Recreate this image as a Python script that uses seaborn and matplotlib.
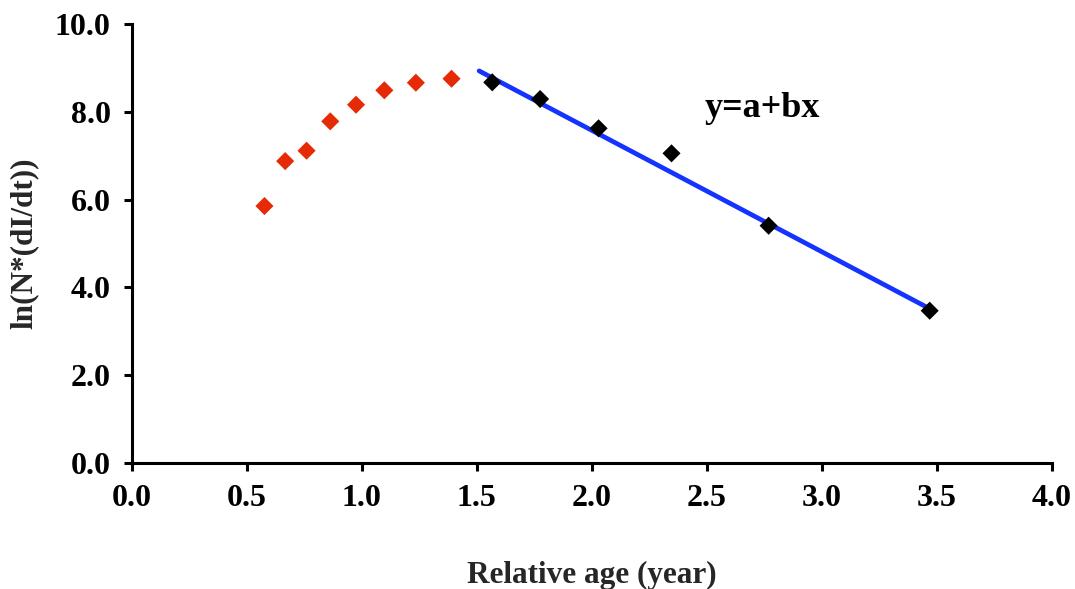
import matplotlib
matplotlib.use("Agg")
import matplotlib.pyplot as plt
import seaborn as sns
import numpy as np
import pandas as pd

# Early (rising) part of the catch curve
age_rising = [0.577, 0.667, 0.760, 0.863, 0.975, 1.098, 1.235, 1.390]
ln_rising = [5.855, 6.88, 7.117, 7.787, 8.166, 8.495, 8.668, 8.759]

# Descending limb used for the linear fit
age_desc = [1.567, 1.775, 2.029, 2.346, 2.768, 3.468]
ln_desc = [8.677, 8.296, 7.628, 7.057, 5.406, 3.467]

# Fitted line y = a + b x
fit_a = 13.12
fit_b = -2.77
fit_x = [1.51, 3.46]

x_ticks = [0.0, 0.5, 1.0, 1.5, 2.0, 2.5, 3.0, 3.5, 4.0]
y_ticks = [0.0, 2.0, 4.0, 6.0, 8.0, 10.0]

sns.set_style("ticks")
plt.rcParams["font.family"] = ["Liberation Serif", "DejaVu Serif"]
plt.rcParams["font.weight"] = "bold"

fig = plt.figure(figsize=(10.75, 5.89), dpi=100)
ax = fig.add_axes([0.1225, 0.2144, 0.8562, 0.7443])

rising = pd.DataFrame({"age": age_rising, "ln": ln_rising})
desc = pd.DataFrame({"age": age_desc, "ln": ln_desc})
line = pd.DataFrame({"age": fit_x, "ln": [fit_a + fit_b * v for v in fit_x]})

sns.lineplot(data=line, x="age", y="ln", ax=ax, color="#1433ff", linewidth=3.4, zorder=2)
sns.scatterplot(data=rising, x="age", y="ln", ax=ax, marker="D", s=85,
                color="#e62a06", edgecolor="none", zorder=3)
sns.scatterplot(data=desc, x="age", y="ln", ax=ax, marker="D", s=85,
                color="black", edgecolor="none", zorder=3)

ax.set_xlim(0, 4.0)
ax.set_ylim(0, 10.0)
ax.set_xticks(x_ticks)
ax.set_yticks(y_ticks)
ax.set_xticklabels([f"{v:.1f}" for v in x_ticks])
ax.set_yticklabels([f"{v:.1f}" for v in y_ticks])

sns.despine(ax=ax)
for side in ("left", "bottom"):
    ax.spines[side].set_linewidth(2.2)
    ax.spines[side].set_color("black")
ax.tick_params(axis="both", direction="out", length=6, width=2.2,
               labelsize=23, colors="black", pad=9)
for lab in ax.get_xticklabels() + ax.get_yticklabels():
    lab.set_fontweight("bold")

ax.set_xlabel("Relative age (year)", fontsize=22.5, fontweight="bold", labelpad=34.5)
ax.set_ylabel("ln(N*(dI/dt))", fontsize=22.5, fontweight="bold", labelpad=12)

ax.text(2.74, 8.09, "y=a+bx", fontsize=26, fontweight="bold",
        ha="center", va="center", color="black")

fig.savefig("out.png", dpi=100)
